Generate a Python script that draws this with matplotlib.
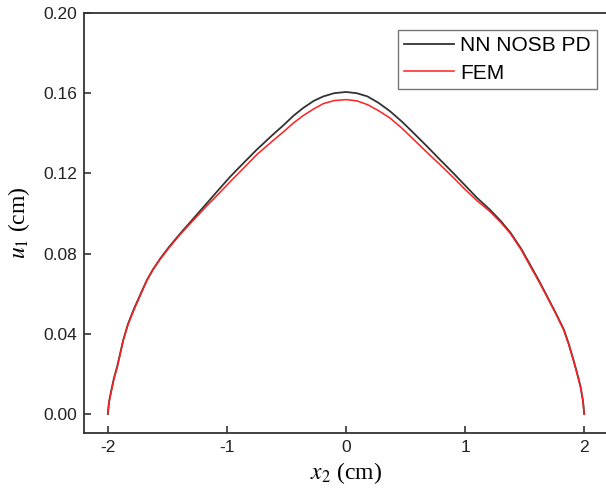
import numpy as np
import matplotlib
matplotlib.use('Agg')
import matplotlib.pyplot as plt

# --- DATA ---
x2 = [-2.0, -1.99, -1.97, -1.95, -1.92, -1.87, -1.83, -1.78, -1.72, -1.67, -1.62, -1.56,
      -1.49, -1.42, -1.37, -1.31, -1.24, -1.17, -1.07, -0.97, -0.86, -0.75, -0.62, -0.52,
      -0.44, -0.36, -0.27, -0.19, -0.10, 0.0, 0.09, 0.18, 0.27, 0.37, 0.47, 0.57,
      0.68, 0.79, 0.90, 1.0, 1.10, 1.21, 1.30, 1.38, 1.47, 1.55, 1.62, 1.69, 1.76,
      1.83, 1.87, 1.91, 1.94, 1.97, 1.99, 2.0]
u1_nn = [0.0, 0.0060, 0.0120, 0.0175, 0.0240, 0.0370, 0.0450, 0.0525, 0.0605, 0.0670, 0.0722, 0.0775,
         0.0830, 0.0880, 0.0915, 0.0955, 0.1003, 0.1050, 0.1118, 0.1185, 0.1252, 0.1318, 0.1390, 0.1443,
         0.1488, 0.1526, 0.1562, 0.1584, 0.1600, 0.1606, 0.1600, 0.1584, 0.1553, 0.1510, 0.1458, 0.1400,
         0.1335, 0.1268, 0.1202, 0.1140, 0.1078, 0.1018, 0.0962, 0.0905, 0.0825, 0.0740, 0.0665, 0.0585, 0.0505,
         0.0420, 0.0350, 0.0270, 0.0205, 0.0135, 0.0065, 0.0]
u1_fem = [0.0, 0.0057, 0.0115, 0.0170, 0.0235, 0.0368, 0.0446, 0.0520, 0.0601, 0.0668, 0.0720, 0.0772,
          0.0826, 0.0876, 0.0910, 0.0948, 0.0993, 0.1037, 0.1098, 0.1160, 0.1226, 0.1293, 0.1360, 0.1410,
          0.1452, 0.1488, 0.1522, 0.1548, 0.1563, 0.1568, 0.1562, 0.1543, 0.1514, 0.1476, 0.1425, 0.1368,
          0.1305, 0.1243, 0.1180, 0.1120, 0.1064, 0.1009, 0.0955, 0.0900, 0.0820, 0.0734, 0.0660, 0.0582, 0.0502,
          0.0416, 0.0346, 0.0266, 0.0201, 0.0132, 0.0063, 0.0]
xticks = [-2, -1, 0, 1, 2]
yticks = [0.00, 0.04, 0.08, 0.12, 0.16, 0.20]

plt.rcParams['font.family'] = 'Liberation Sans'
plt.rcParams['mathtext.fontset'] = 'stix'

W, H = 606, 495
fig = plt.figure(figsize=(W / 100, H / 100), dpi=100)
ax = fig.add_axes([84 / W, 62 / H, (608 - 84) / W, (433 - 13) / H])

ax.plot(x2, u1_nn, color='#333333', linewidth=1.3, label='NN NOSB PD')
ax.plot(x2, u1_fem, color='#ff2020', linewidth=1.1, label='FEM')

ax.set_xlim(-2.2, 2.2)
ax.set_ylim(-0.0095, 0.20)
ax.set_xticks(xticks)
ax.set_xticklabels([str(t) for t in xticks])
ax.set_yticks(yticks)
ax.set_yticklabels([f'{t:.2f}' for t in yticks])
ax.tick_params(direction='in', length=5, width=1.2, labelsize=12.5, colors='#333333',
               labelcolor='#222222', pad=5)

for s in ax.spines.values():
    s.set_linewidth(1.3)
    s.set_color('#333333')

ax.set_xlabel(r'$x_2$ (cm)', fontsize=17, family='Liberation Serif', labelpad=4)
ax.set_ylabel(r'$u_1$ (cm)', fontsize=17, family='Liberation Serif', labelpad=8)

leg = ax.legend(loc='upper right', bbox_to_anchor=(597 / W, 1 - 30 / H),
                bbox_transform=fig.transFigure, borderaxespad=0, fontsize=15,
                fancybox=False, framealpha=1, edgecolor='#777777',
                handlelength=2.4, handletextpad=0.3, borderpad=0.3, labelspacing=0.4)
leg.get_frame().set_linewidth(1.0)

fig.savefig('out.png', dpi=100)
